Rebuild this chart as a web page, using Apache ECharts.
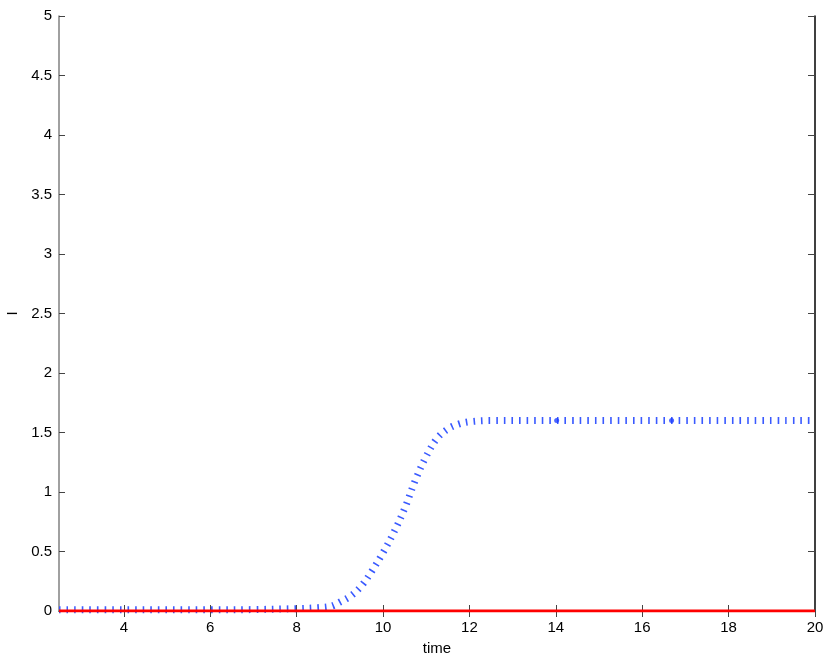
<!DOCTYPE html>
<html>
<head>
<meta charset="utf-8">
<script src="https://cdn.jsdelivr.net/npm/echarts@6/dist/echarts.min.js"></script>
<style>
  html, body { margin: 0; padding: 0; background: #fff; }
  #chart { width: 830px; height: 660px; }
</style>
</head>
<body>
<div id="chart"></div>
<script>
// blue dotted curve (time, I)
var blueTime = [2.5, 4, 6, 7, 8, 8.5, 8.8, 9, 9.25, 9.5, 9.75, 10, 10.25, 10.5, 10.75, 11, 11.25, 11.5, 11.75, 12, 12.5, 14, 20]
var blueI = [0.01, 0.01, 0.01, 0.012, 0.02, 0.028, 0.04, 0.075, 0.125, 0.21, 0.34, 0.49, 0.66, 0.86, 1.1, 1.3, 1.45, 1.53, 1.57, 1.59, 1.6, 1.6, 1.6]
// heavier dots seen on the plateau
var blueMarkTime = [14.02, 16.68]
var blueMarkI = [1.6, 1.6]
// red solid line
var redTime = [2.5, 20]
var redI = [0, 0]

var xTicks = [4, 6, 8, 10, 12, 14, 16, 18, 20]

function zip(a, b) {
  return a.map(function(v, i) { return [v, b[i]] })
}

var chart = echarts.init(document.getElementById('chart'))
var font = 'Liberation Sans, Arial, sans-serif'

chart.setOption({
  animation: false,
  grid: { left: 59, right: 15, top: 16, bottom: 49, outerBoundsMode: 'none', containLabel: false },
  xAxis: [
    {
      type: 'value',
      min: 2.5,
      max: 20,
      name: 'time',
      nameLocation: 'middle',
      nameGap: 30,
      nameTextStyle: { color: '#000', fontSize: 15, fontFamily: font },
      axisLine: { show: true, lineStyle: { color: '#000', width: 1 } },
      axisTick: { show: true, inside: true, length: 6, customValues: xTicks, lineStyle: { color: '#444' } },
      axisLabel: { customValues: xTicks, color: '#000', fontSize: 15, fontFamily: font, margin: 9 },
      splitLine: { show: false }
    },
    {
      type: 'value',
      position: 'top',
      min: 2.5,
      max: 20,
      axisLine: { show: true, lineStyle: { color: '#808080', width: 1.5 } },
      axisTick: { show: true, inside: true, length: 6, customValues: xTicks, lineStyle: { color: '#444' } },
      axisLabel: { show: false },
      splitLine: { show: false }
    }
  ],
  yAxis: [
    {
      type: 'value',
      min: 0,
      max: 5,
      interval: 0.5,
      name: 'I',
      nameLocation: 'middle',
      nameGap: 39,
      nameTextStyle: { color: '#000', fontSize: 15, fontFamily: font },
      axisLine: { show: true, lineStyle: { color: '#808080', width: 1.5 } },
      axisTick: { show: true, inside: true, length: 6, lineStyle: { color: '#444' } },
      axisLabel: { color: '#000', fontSize: 15, fontFamily: font, margin: 7 },
      splitLine: { show: false }
    },
    {
      type: 'value',
      position: 'right',
      min: 0,
      max: 5,
      interval: 0.5,
      axisLine: { show: true, lineStyle: { color: '#000', width: 1.5 } },
      axisTick: { show: true, inside: true, length: 7, lineStyle: { color: '#444' } },
      axisLabel: { show: false },
      splitLine: { show: false }
    }
  ],
  series: [
    {
      name: 'blue',
      type: 'line',
      smooth: 0.35,
      showSymbol: false,
      data: zip(blueTime, blueI),
      lineStyle: {
        color: '#3a5aff',
        width: 7,
        type: [1.6, 6],
        cap: 'butt'
      },
      z: 2
    },
    {
      name: 'blueMarks',
      type: 'scatter',
      symbol: 'circle',
      symbolSize: 5,
      data: zip(blueMarkTime, blueMarkI),
      itemStyle: { color: '#2040ff' },
      z: 3
    },
    {
      name: 'red',
      type: 'line',
      showSymbol: false,
      data: zip(redTime, redI),
      lineStyle: { color: '#ff0000', width: 3 },
      z: 4
    }
  ]
})
</script>
</body>
</html>
